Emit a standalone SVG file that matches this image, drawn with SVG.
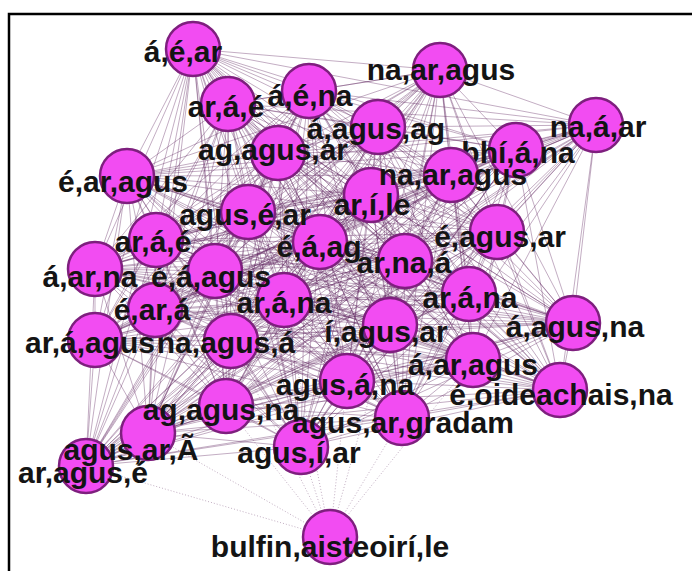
<svg xmlns="http://www.w3.org/2000/svg" width="692" height="571" viewBox="0 0 692 571">
<style>
.e{fill:none;stroke:#5c205c;stroke-width:.6;stroke-opacity:.62}
.d{fill:none;stroke:#6a3a6a;stroke-width:.7;stroke-opacity:.6;stroke-dasharray:1 2}
.n circle{fill:#f24cf2;stroke:#7e1f7e;stroke-width:2.5}
.n text{font-family:"Liberation Sans",Arial,sans-serif;font-weight:bold;font-size:30px;fill:#141414;text-anchor:middle}
</style>
<rect width="692" height="571" fill="#fff"/>
<path d="M9,571V14H692" fill="none" stroke="#000" stroke-width="2.5"/>
<g id="connectors">
<path class="e" d="M193,49L440,70M193,49L309,91M193,49L228,104M193,49L596,125M193,49L378,127M193,49L516,150M193,49L278,153M193,49L451,175M193,49L127,176M193,49L371,195M193,49L248,212M193,49L497,232M193,49L156,240M193,49L320,242M193,49L405,261M193,49L95,269M193,49L215,271M193,49L469,294M193,49L284,300M193,49L155,310M193,49L573,323M193,49L390,325M193,49L95,340M193,49L231,341M193,49L473,360M193,49L347,381M193,49L560,390M193,49L226,406M193,49L402,418M193,49L148,433M193,49L301,447M193,49L86,466"/>
<path class="e" d="M440,70L309,91M440,70L228,104M440,70L596,125M440,70L378,127M440,70L516,150M440,70L278,153M440,70L451,175M440,70L127,176M440,70L371,195M440,70L248,212M440,70L497,232M440,70L156,240M440,70L320,242M440,70L405,261M440,70L95,269M440,70L215,271M440,70L469,294M440,70L284,300M440,70L155,310M440,70L573,323M440,70L390,325M440,70L95,340M440,70L231,341M440,70L473,360M440,70L347,381M440,70L560,390M440,70L226,406M440,70L402,418M440,70L148,433M440,70L301,447M440,70L86,466"/>
<path class="e" d="M309,91L228,104M309,91L596,125M309,91L378,127M309,91L516,150M309,91L278,153M309,91L451,175M309,91L127,176M309,91L371,195M309,91L248,212M309,91L497,232M309,91L156,240M309,91L320,242M309,91L405,261M309,91L95,269M309,91L215,271M309,91L469,294M309,91L284,300M309,91L155,310M309,91L573,323M309,91L390,325M309,91L95,340M309,91L231,341M309,91L473,360M309,91L347,381M309,91L560,390M309,91L226,406M309,91L402,418M309,91L148,433M309,91L301,447M309,91L86,466"/>
<path class="e" d="M228,104L596,125M228,104L378,127M228,104L516,150M228,104L278,153M228,104L451,175M228,104L127,176M228,104L371,195M228,104L248,212M228,104L497,232M228,104L156,240M228,104L320,242M228,104L405,261M228,104L95,269M228,104L215,271M228,104L469,294M228,104L284,300M228,104L155,310M228,104L573,323M228,104L390,325M228,104L95,340M228,104L231,341M228,104L473,360M228,104L347,381M228,104L560,390M228,104L226,406M228,104L402,418M228,104L148,433M228,104L301,447M228,104L86,466"/>
<path class="e" d="M596,125L378,127M596,125L516,150M596,125L278,153M596,125L451,175M596,125L127,176M596,125L371,195M596,125L248,212M596,125L497,232M596,125L156,240M596,125L320,242M596,125L405,261M596,125L95,269M596,125L215,271M596,125L469,294M596,125L284,300M596,125L155,310M596,125L573,323M596,125L390,325M596,125L95,340M596,125L231,341M596,125L473,360M596,125L347,381M596,125L560,390M596,125L226,406M596,125L402,418M596,125L148,433M596,125L301,447M596,125L86,466"/>
<path class="e" d="M378,127L516,150M378,127L278,153M378,127L451,175M378,127L127,176M378,127L371,195M378,127L248,212M378,127L497,232M378,127L156,240M378,127L320,242M378,127L405,261M378,127L95,269M378,127L215,271M378,127L469,294M378,127L284,300M378,127L155,310M378,127L573,323M378,127L390,325M378,127L95,340M378,127L231,341M378,127L473,360M378,127L347,381M378,127L560,390M378,127L226,406M378,127L402,418M378,127L148,433M378,127L301,447M378,127L86,466"/>
<path class="e" d="M516,150L278,153M516,150L451,175M516,150L127,176M516,150L371,195M516,150L248,212M516,150L497,232M516,150L156,240M516,150L320,242M516,150L405,261M516,150L95,269M516,150L215,271M516,150L469,294M516,150L284,300M516,150L155,310M516,150L573,323M516,150L390,325M516,150L95,340M516,150L231,341M516,150L473,360M516,150L347,381M516,150L560,390M516,150L226,406M516,150L402,418M516,150L148,433M516,150L301,447M516,150L86,466"/>
<path class="e" d="M278,153L451,175M278,153L127,176M278,153L371,195M278,153L248,212M278,153L497,232M278,153L156,240M278,153L320,242M278,153L405,261M278,153L95,269M278,153L215,271M278,153L469,294M278,153L284,300M278,153L155,310M278,153L573,323M278,153L390,325M278,153L95,340M278,153L231,341M278,153L473,360M278,153L347,381M278,153L560,390M278,153L226,406M278,153L402,418M278,153L148,433M278,153L301,447M278,153L86,466"/>
<path class="e" d="M451,175L127,176M451,175L371,195M451,175L248,212M451,175L497,232M451,175L156,240M451,175L320,242M451,175L405,261M451,175L95,269M451,175L215,271M451,175L469,294M451,175L284,300M451,175L155,310M451,175L573,323M451,175L390,325M451,175L95,340M451,175L231,341M451,175L473,360M451,175L347,381M451,175L560,390M451,175L226,406M451,175L402,418M451,175L148,433M451,175L301,447M451,175L86,466"/>
<path class="e" d="M127,176L371,195M127,176L248,212M127,176L497,232M127,176L156,240M127,176L320,242M127,176L405,261M127,176L95,269M127,176L215,271M127,176L469,294M127,176L284,300M127,176L155,310M127,176L573,323M127,176L390,325M127,176L95,340M127,176L231,341M127,176L473,360M127,176L347,381M127,176L560,390M127,176L226,406M127,176L402,418M127,176L148,433M127,176L301,447M127,176L86,466"/>
<path class="e" d="M371,195L248,212M371,195L497,232M371,195L156,240M371,195L320,242M371,195L405,261M371,195L95,269M371,195L215,271M371,195L469,294M371,195L284,300M371,195L155,310M371,195L573,323M371,195L390,325M371,195L95,340M371,195L231,341M371,195L473,360M371,195L347,381M371,195L560,390M371,195L226,406M371,195L402,418M371,195L148,433M371,195L301,447M371,195L86,466"/>
<path class="e" d="M248,212L497,232M248,212L156,240M248,212L320,242M248,212L405,261M248,212L95,269M248,212L215,271M248,212L469,294M248,212L284,300M248,212L155,310M248,212L573,323M248,212L390,325M248,212L95,340M248,212L231,341M248,212L473,360M248,212L347,381M248,212L560,390M248,212L226,406M248,212L402,418M248,212L148,433M248,212L301,447M248,212L86,466"/>
<path class="e" d="M497,232L156,240M497,232L320,242M497,232L405,261M497,232L95,269M497,232L215,271M497,232L469,294M497,232L284,300M497,232L155,310M497,232L573,323M497,232L390,325M497,232L95,340M497,232L231,341M497,232L473,360M497,232L347,381M497,232L560,390M497,232L226,406M497,232L402,418M497,232L148,433M497,232L301,447M497,232L86,466"/>
<path class="e" d="M156,240L320,242M156,240L405,261M156,240L95,269M156,240L215,271M156,240L469,294M156,240L284,300M156,240L155,310M156,240L573,323M156,240L390,325M156,240L95,340M156,240L231,341M156,240L473,360M156,240L347,381M156,240L560,390M156,240L226,406M156,240L402,418M156,240L148,433M156,240L301,447M156,240L86,466"/>
<path class="e" d="M320,242L405,261M320,242L95,269M320,242L215,271M320,242L469,294M320,242L284,300M320,242L155,310M320,242L573,323M320,242L390,325M320,242L95,340M320,242L231,341M320,242L473,360M320,242L347,381M320,242L560,390M320,242L226,406M320,242L402,418M320,242L148,433M320,242L301,447M320,242L86,466"/>
<path class="e" d="M405,261L95,269M405,261L215,271M405,261L469,294M405,261L284,300M405,261L155,310M405,261L573,323M405,261L390,325M405,261L95,340M405,261L231,341M405,261L473,360M405,261L347,381M405,261L560,390M405,261L226,406M405,261L402,418M405,261L148,433M405,261L301,447M405,261L86,466"/>
<path class="e" d="M95,269L215,271M95,269L469,294M95,269L284,300M95,269L155,310M95,269L573,323M95,269L390,325M95,269L95,340M95,269L231,341M95,269L473,360M95,269L347,381M95,269L560,390M95,269L226,406M95,269L402,418M95,269L148,433M95,269L301,447M95,269L86,466"/>
<path class="e" d="M215,271L469,294M215,271L284,300M215,271L155,310M215,271L573,323M215,271L390,325M215,271L95,340M215,271L231,341M215,271L473,360M215,271L347,381M215,271L560,390M215,271L226,406M215,271L402,418M215,271L148,433M215,271L301,447M215,271L86,466"/>
<path class="e" d="M469,294L284,300M469,294L155,310M469,294L573,323M469,294L390,325M469,294L95,340M469,294L231,341M469,294L473,360M469,294L347,381M469,294L560,390M469,294L226,406M469,294L402,418M469,294L148,433M469,294L301,447M469,294L86,466"/>
<path class="e" d="M284,300L155,310M284,300L573,323M284,300L390,325M284,300L95,340M284,300L231,341M284,300L473,360M284,300L347,381M284,300L560,390M284,300L226,406M284,300L402,418M284,300L148,433M284,300L301,447M284,300L86,466"/>
<path class="e" d="M155,310L573,323M155,310L390,325M155,310L95,340M155,310L231,341M155,310L473,360M155,310L347,381M155,310L560,390M155,310L226,406M155,310L402,418M155,310L148,433M155,310L301,447M155,310L86,466"/>
<path class="e" d="M573,323L390,325M573,323L95,340M573,323L231,341M573,323L473,360M573,323L347,381M573,323L560,390M573,323L226,406M573,323L402,418M573,323L148,433M573,323L301,447M573,323L86,466"/>
<path class="e" d="M390,325L95,340M390,325L231,341M390,325L473,360M390,325L347,381M390,325L560,390M390,325L226,406M390,325L402,418M390,325L148,433M390,325L301,447M390,325L86,466"/>
<path class="e" d="M95,340L231,341M95,340L473,360M95,340L347,381M95,340L560,390M95,340L226,406M95,340L402,418M95,340L148,433M95,340L301,447M95,340L86,466"/>
<path class="e" d="M231,341L473,360M231,341L347,381M231,341L560,390M231,341L226,406M231,341L402,418M231,341L148,433M231,341L301,447M231,341L86,466"/>
<path class="e" d="M473,360L347,381M473,360L560,390M473,360L226,406M473,360L402,418M473,360L148,433M473,360L301,447M473,360L86,466"/>
<path class="e" d="M347,381L560,390M347,381L226,406M347,381L402,418M347,381L148,433M347,381L301,447M347,381L86,466"/>
<path class="e" d="M560,390L226,406M560,390L402,418M560,390L148,433M560,390L301,447M560,390L86,466"/>
<path class="e" d="M226,406L402,418M226,406L148,433M226,406L301,447M226,406L86,466"/>
<path class="e" d="M402,418L148,433M402,418L301,447M402,418L86,466"/>
<path class="e" d="M148,433L301,447M148,433L86,466M301,447L86,466"/>
<path class="d" d="M330,537L347,381M330,537L226,406M330,537L402,418M330,537L148,433M330,537L301,447M330,537L473,360M330,537L390,325M330,537L231,341M330,537L284,300M330,537L86,466"/>
</g>
<g id="n34" class="n"><circle cx="330" cy="537" r="27"/><text x="330" y="557">bulfin,aisteoirí,le</text></g>
<g id="n33" class="n"><circle cx="86" cy="466" r="27"/><text x="83" y="483">ar,agus,é</text></g>
<g id="n32" class="n"><circle cx="301" cy="447" r="27"/><text x="299" y="463">agus,í,ar</text></g>
<g id="n31" class="n"><circle cx="148" cy="433" r="27"/><text x="131" y="460">agus,ar,Ã</text></g>
<g id="n30" class="n"><circle cx="402" cy="418" r="27"/><text x="403" y="433">agus,ar,gradam</text></g>
<g id="n29" class="n"><circle cx="226" cy="406" r="27"/><text x="221" y="420">ag,agus,na</text></g>
<g id="n28" class="n"><circle cx="560" cy="390" r="27"/><text x="561" y="405">é,oideachais,na</text></g>
<g id="n27" class="n"><circle cx="347" cy="381" r="27"/><text x="345" y="395">agus,á,na</text></g>
<g id="n26" class="n"><circle cx="473" cy="360" r="27"/><text x="473" y="375">á,ar,agus</text></g>
<g id="n25" class="n"><circle cx="231" cy="341" r="27"/><text x="226" y="353">na,agus,á</text></g>
<g id="n24" class="n"><circle cx="95" cy="340" r="27"/><text x="90" y="353">ar,á,agus</text></g>
<g id="n23" class="n"><circle cx="390" cy="325" r="27"/><text x="386" y="342">í,agus,ar</text></g>
<g id="n22" class="n"><circle cx="573" cy="323" r="27"/><text x="575" y="337">á,agus,na</text></g>
<g id="n21" class="n"><circle cx="155" cy="310" r="27"/><text x="152" y="320">é,ar,á</text></g>
<g id="n20" class="n"><circle cx="284" cy="300" r="27"/><text x="284" y="313">ar,á,na</text></g>
<g id="n19" class="n"><circle cx="469" cy="294" r="27"/><text x="470" y="308">ar,á,na</text></g>
<g id="n18" class="n"><circle cx="215" cy="271" r="27"/><text x="211" y="287">é,á,agus</text></g>
<g id="n17" class="n"><circle cx="95" cy="269" r="27"/><text x="90" y="287">á,ar,na</text></g>
<g id="n16" class="n"><circle cx="405" cy="261" r="27"/><text x="404" y="273">ar,na,á</text></g>
<g id="n15" class="n"><circle cx="320" cy="242" r="27"/><text x="319" y="257">é,á,ag</text></g>
<g id="n14" class="n"><circle cx="156" cy="240" r="27"/><text x="153" y="252">ar,á,é</text></g>
<g id="n13" class="n"><circle cx="497" cy="232" r="27"/><text x="500" y="247">é,agus,ar</text></g>
<g id="n12" class="n"><circle cx="248" cy="212" r="27"/><text x="245" y="225">agus,é,ar</text></g>
<g id="n11" class="n"><circle cx="371" cy="195" r="27"/><text x="372" y="215">ar,í,le</text></g>
<g id="n10" class="n"><circle cx="127" cy="176" r="27"/><text x="123" y="192">é,ar,agus</text></g>
<g id="n7" class="n"><circle cx="516" cy="150" r="27"/><text x="518" y="163">bhí,á,na</text></g>
<g id="n9" class="n"><circle cx="451" cy="175" r="27"/><text x="453" y="185">na,ar,agus</text></g>
<g id="n8" class="n"><circle cx="278" cy="153" r="27"/><text x="273" y="160">ag,agus,ar</text></g>
<g id="n6" class="n"><circle cx="378" cy="127" r="27"/><text x="376" y="139">á,agus,ag</text></g>
<g id="n5" class="n"><circle cx="596" cy="125" r="27"/><text x="598" y="137">na,á,ar</text></g>
<g id="n4" class="n"><circle cx="228" cy="104" r="27"/><text x="226" y="117">ar,á,é</text></g>
<g id="n3" class="n"><circle cx="309" cy="91" r="27"/><text x="310" y="106">á,é,na</text></g>
<g id="n2" class="n"><circle cx="440" cy="70" r="27"/><text x="441" y="80">na,ar,agus</text></g>
<g id="n1" class="n"><circle cx="193" cy="49" r="27"/><text x="183" y="62">á,é,ar</text></g>
</svg>
